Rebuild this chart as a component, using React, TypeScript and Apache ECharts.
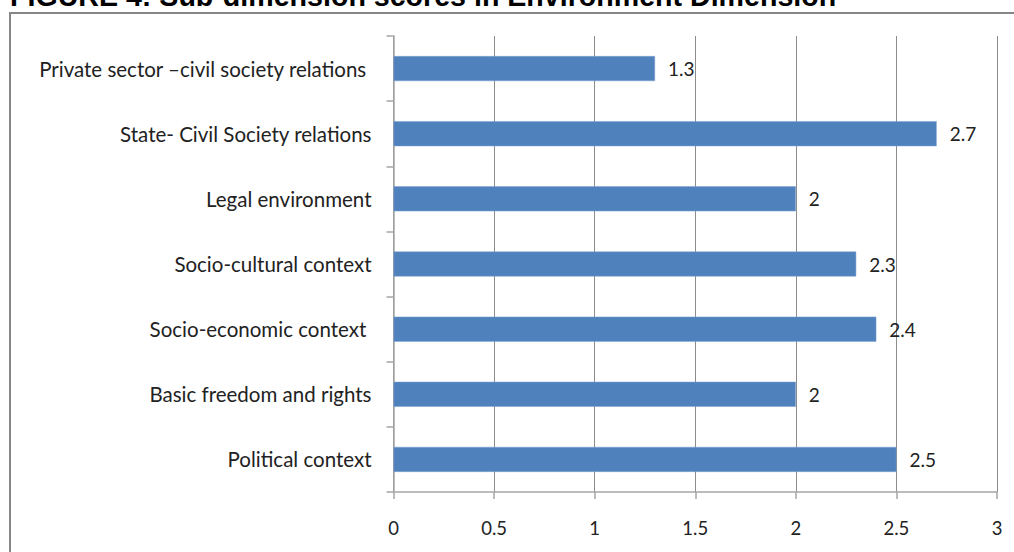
import React, { useEffect, useRef } from "react";
import * as echarts from "echarts";

const categories = [
  "Private sector –civil society relations ",
  "State- Civil Society relations",
  "Legal environment",
  "Socio-cultural context",
  "Socio-economic context ",
  "Basic freedom and rights",
  "Political context",
];
const scores = [1.3, 2.7, 2, 2.3, 2.4, 2, 2.5];
const xTicks = { min: 0, max: 3, interval: 0.5 };
const titleText = "FIGURE 4: Sub-dimension scores in Environment Dimension";

export default function App() {
  const ref = useRef<HTMLDivElement>(null);
  useEffect(() => {
    if (!ref.current) return;
    const chart = echarts.init(ref.current, undefined, { renderer: "svg" });
    const font = "Lato, 'Open Sans', sans-serif";
    chart.setOption({
      animation: false,
      backgroundColor: "#ffffff",
      grid: { left: 393.5, right: 17, top: 36, bottom: 60, containLabel: false },
      xAxis: {
        type: "value",
        min: xTicks.min,
        max: xTicks.max,
        interval: xTicks.interval,
        axisLine: { show: true, lineStyle: { color: "#a6a6a6", width: 1.5 } },
        axisTick: { show: true, length: 7, lineStyle: { color: "#a6a6a6", width: 1.5 } },
        splitLine: { show: true, lineStyle: { color: "#8c8c8c", width: 1 } },
        axisLabel: { color: "#222", fontSize: 18.5, fontFamily: font, margin: 26 },
      },
      yAxis: {
        type: "category",
        inverse: true,
        data: categories,
        axisLine: { show: true, lineStyle: { color: "#a6a6a6", width: 1.5 } },
        axisTick: { show: true, length: 7, lineStyle: { color: "#a6a6a6", width: 1.5 } },
        axisLabel: { color: "#222", fontSize: 20.5, fontFamily: font, margin: 22 },
      },
      series: [
        {
          type: "bar",
          data: scores,
          barWidth: 25,
          itemStyle: { color: "#4F81BD", borderColor: "#7ea3d1", borderWidth: 0.5 },
          label: {
            show: true,
            position: "right",
            distance: 13,
            color: "#222",
            fontSize: 19,
            fontFamily: font,
          },
        },
      ],
      graphic: [
        {
          type: "rect",
          shape: { x: 10, y: 13, width: 1100, height: 700 },
          style: { fill: "none", stroke: "#868686", lineWidth: 2 },
          silent: true,
        },
        {
          type: "text",
          x: 10,
          y: -4.5,
          style: {
            text: titleText,
            fill: "#000",
            font: "bold 28.6px 'Liberation Sans', Arial, sans-serif",
            verticalAlign: "middle",
            align: "left",
          },
          silent: true,
        },
      ],
    });
    return () => chart.dispose();
  }, []);
  return (
    <div
      ref={ref}
      style={{ position: "fixed", left: 0, top: 0, width: 1014, height: 552 }}
    />
  );
}
